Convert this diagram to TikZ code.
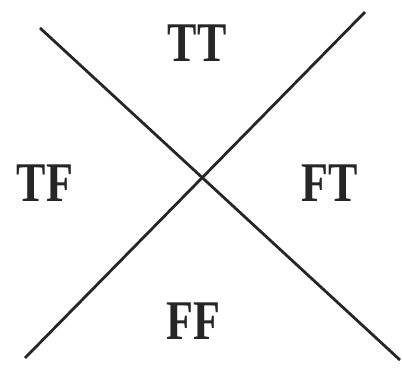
\documentclass[tikz,border=0pt]{standalone}
\usepackage{fontspec}
\setmainfont{Liberation Serif}
\begin{document}
\begin{tikzpicture}[x=1pt,y=-1pt,
  lbl/.style={font=\fontsize{50}{50}\selectfont\bfseries, text=black!85, inner sep=0pt, anchor=center, transform shape, xscale=0.88, yscale=1.12},
  axis/.style={line width=2.8pt, draw=black!85}]
\useasboundingbox (0,0) rectangle (402,368);
\coordinate (a1) at (40,28);
\coordinate (a2) at (400,360);
\coordinate (b1) at (365,12);
\coordinate (b2) at (25,358);
\draw[axis] (a1) -- (a2);
\draw[axis] (b1) -- (b2);
\node[lbl] (tt) at (197,43) {TT};
\node[lbl] (tf) at (45,183) {TF};
\node[lbl] (ft) at (330,183) {FT};
\node[lbl] (ff) at (193,321) {FF};
\end{tikzpicture}
\end{document}
